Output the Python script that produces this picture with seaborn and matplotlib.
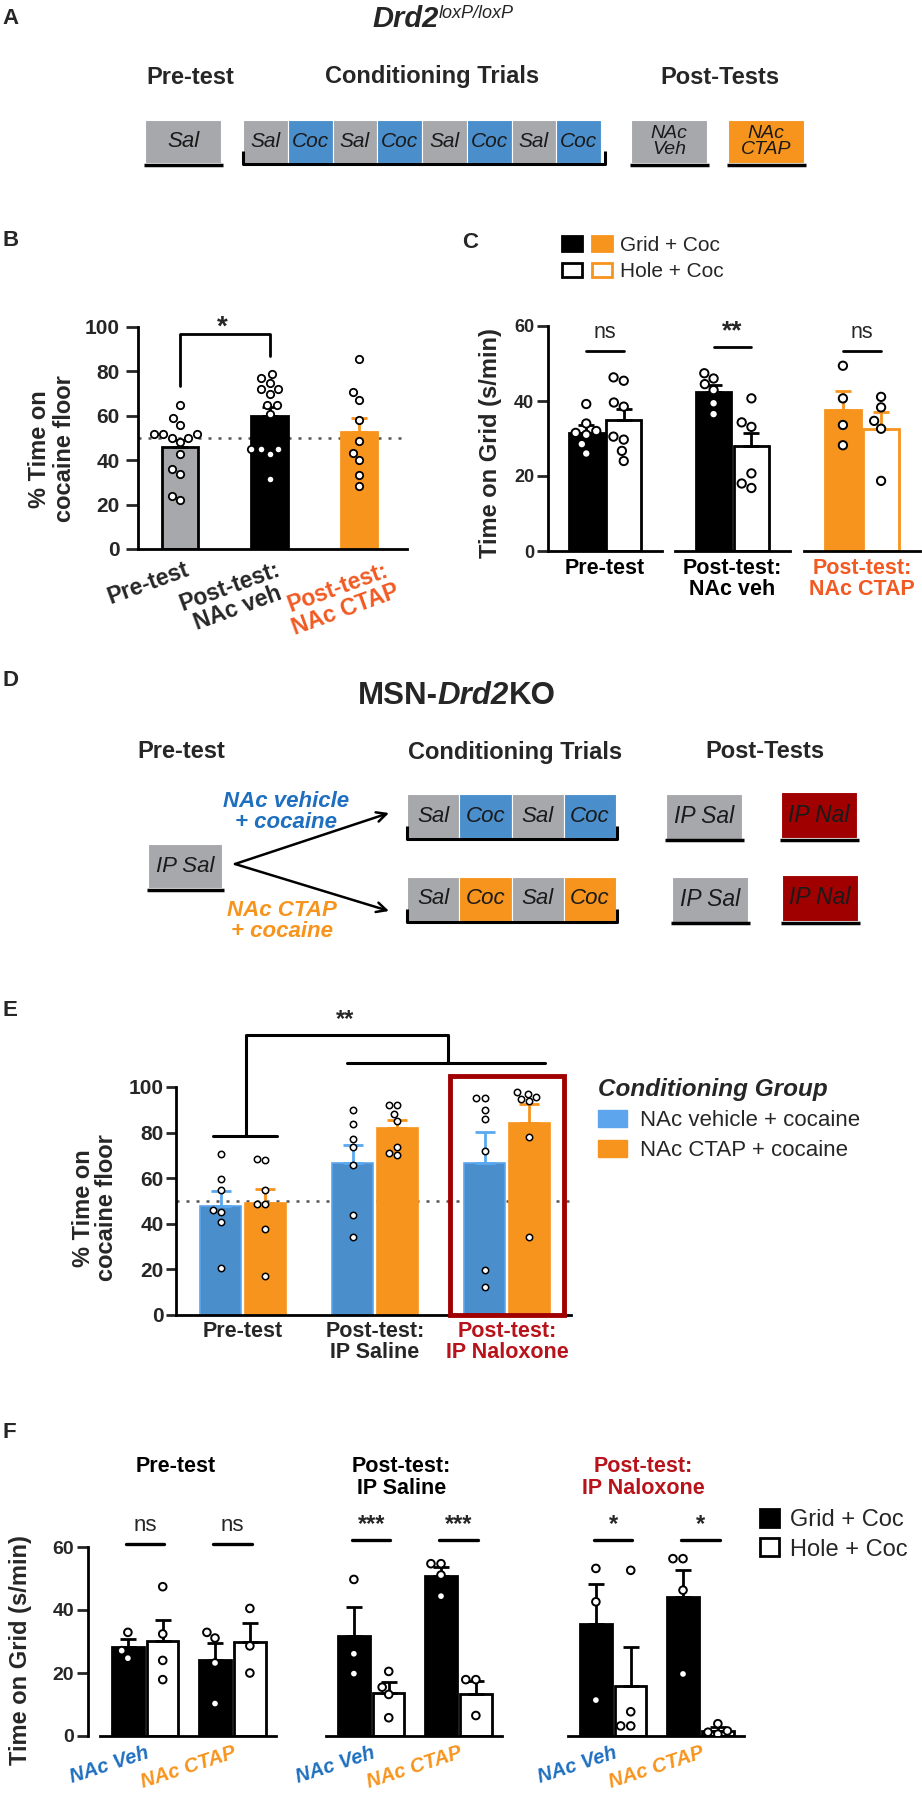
import numpy as np
import pandas as pd
import matplotlib
matplotlib.use('Agg')
import matplotlib.pyplot as plt
import matplotlib.transforms as mtransforms
import seaborn as sns
from matplotlib.patches import Rectangle, Patch
from matplotlib.legend_handler import HandlerTuple
from matplotlib.offsetbox import TextArea, HPacker, AnnotationBbox
from matplotlib.font_manager import FontProperties
from matplotlib import font_manager as fm

# ------------------------------------------------------------------ data
# Panel A schematic
A_pre = ['Sal']
A_cond = ['Sal', 'Coc', 'Sal', 'Coc', 'Sal', 'Coc', 'Sal', 'Coc']
A_post = ['NAc\nVeh', 'NAc\nCTAP']
A_headers = ['Pre-test', 'Conditioning Trials', 'Post-Tests']

# Panel B
B_conds = ['Pre-test', 'Post-test:\nNAc veh', 'Post-test:\nNAc CTAP']
B_means = [45.8, 60.0, 52.6]
B_sem = [3.5, 3.9, 6.5]
B_dots_pre = [65, 59, 56, 52, 52, 52, 50, 50, 48, 43, 36, 34, 24, 22]
B_dots_veh = [79, 77, 75, 72, 72, 70, 65, 65, 61, 45, 45, 43, 45, 31.5]
B_dots_ctap = [85.4, 70.6, 67.3, 58.2, 48.7, 43.1, 40.0, 33.3, 28.4]
B_chance = 50

# Panel C
FLOORS = ['Grid + Coc', 'Hole + Coc']
C_groups = ['Pre-test', 'Post-test:\nNAc veh', 'Post-test:\nNAc CTAP']
C_grid_mean = [31.5, 42.3, 37.6]
C_grid_sem = [2.1, 2.1, 5.0]
C_hole_mean = [34.9, 28.0, 32.6]
C_hole_sem = [3.1, 3.6, 4.4]
C_grid_dots = [[39.2, 34.0, 32.0, 31.5, 31.0, 28.5, 26.0],
               [47.4, 46.0, 44.5, 42.9, 39.4, 36.5],
               [49.4, 40.7, 33.6, 28.2]]
C_hole_dots = [[46.3, 45.4, 39.6, 38.5, 30.5, 29.7, 26.7, 24.0],
               [40.7, 34.3, 33.1, 20.7, 18.0, 16.8],
               [41.1, 38.3, 34.7, 32.6, 18.7]]
C_sig = ['ns', '**', 'ns']

# Panel D schematic
D_pre = ['IP Sal']
D_cond = ['Sal', 'Coc', 'Sal', 'Coc']
D_post = ['IP Sal', 'IP Nal']
D_arms = ['NAc vehicle\n+ cocaine', 'NAc CTAP\n+ cocaine']

# Panel E
E_groups = ['Pre-test', 'Post-test:\nIP Saline', 'Post-test:\nIP Naloxone']
E_cond = ['NAc vehicle + cocaine', 'NAc CTAP + cocaine']
E_veh_mean = [48.0, 66.8, 66.8]
E_veh_sem = [6.3, 7.9, 13.3]
E_ctap_mean = [49.3, 82.1, 84.3]
E_ctap_sem = [6.0, 3.3, 8.4]
E_veh_dots = [[70.4, 59.7, 54.9, 46.1, 45.1, 41.0, 20.8],
              [90.0, 83.9, 77.2, 73.5, 66.0, 43.9, 34.0],
              [95.0, 95.0, 90.0, 85.9, 72.0, 19.8, 12.2]]
E_ctap_dots = [[68.5, 67.8, 54.9, 48.8, 48.8, 37.9, 17.1],
               [92.1, 92.1, 88.1, 84.9, 73.9, 71.0, 70.3],
               [97.7, 97.1, 95.6, 94.7, 93.7, 78.0, 34.0]]
E_chance = 50

# Panel F
F_phases = ['Pre-test', 'Post-test:\nIP Saline', 'Post-test:\nIP Naloxone']
F_groups = ['NAc Veh', 'NAc CTAP']
F_grid_mean = [[28.1, 24.1], [31.6, 50.8], [35.6, 44.2]]
F_grid_sem = [[2.6, 5.4], [9.5, 2.7], [12.6, 8.4]]
F_hole_mean = [[30.2, 29.8], [13.7, 13.4], [16.0, 1.6]]
F_hole_sem = [[6.6, 6.0], [3.4, 4.0], [12.4, 1.3]]
F_grid_dots = [[[32.9, 27.1, 24.7], [32.9, 31.1, 23.2, 10.3]],
               [[49.7, 26.1, 19.8], [54.7, 54.7, 51.1, 44.4]],
               [[53.2, 42.6, 11.4], [56.3, 56.3, 46.3, 19.7]]]
F_hole_dots = [[[47.4, 32.4, 24.0, 17.9], [40.5, 28.6, 20.0]],
               [[20.5, 15.5, 13.2, 5.8], [17.9, 17.9, 6.5]],
               [[52.6, 7.7, 3.2, 3.2], [3.9, 1.6, 1.2, 0.6]]]
F_sig = [['ns', 'ns'], ['***', '***'], ['*', '*']]

# ------------------------------------------------------------------ style
sns.set_style('ticks')
names = {f.name for f in fm.fontManager.ttflist}
ARIAL = 'Liberation Sans' if 'Liberation Sans' in names else 'DejaVu Sans'
NARROW = 'Liberation Sans Narrow' if 'Liberation Sans Narrow' in names else ARIAL
plt.rcParams['font.family'] = [ARIAL, 'DejaVu Sans']
plt.rcParams['axes.linewidth'] = 2
plt.rcParams['xtick.major.width'] = 2
plt.rcParams['ytick.major.width'] = 2
plt.rcParams['axes.edgecolor'] = 'black'

GRAY = '#A6A8AB'
BLUE = '#4A8FCC'
BLUE_L = '#5DA5EC'
BLUE_ERR = '#5AA9F0'
ORANGE = '#F7941D'
RED_ORANGE = '#F15A22'
DARKRED = '#A00000'
NAL_RED = '#B8131A'
TXT_BLUE = '#1E6FBF'

W, H = 922, 1800
fig = plt.figure(figsize=(W / 100, H / 100), dpi=100)
ov = fig.add_axes([0, 0, 1, 1])
ov.set_xlim(0, W)
ov.set_ylim(H, 0)
ov.set_axis_off()


def px_axes(l, t, r, b):
    ax = fig.add_axes([l / W, 1 - b / H, (r - l) / W, (b - t) / H])
    ax.patch.set_alpha(0)
    return ax


def shift_labels(labels, dxs, dy=0):
    for lbl, dx in zip(labels, dxs):
        lbl.set_transform(lbl.get_transform() +
                          mtransforms.ScaledTranslation(dx / 100, dy / 100, fig.dpi_scale_trans))


def box(x, y, w, h, label, color, fs=15, ls=1.0):
    ov.add_patch(Rectangle((x, y), w, h, facecolor=color, edgecolor='white', lw=0.8))
    ov.text(x + w / 2, y + h / 2, label, ha='center', va='center', style='italic',
            family=NARROW, fontsize=fs, linespacing=ls, color='#1a1a1a')


def underline(x0, x1, y):
    ov.plot([x0, x1], [y, y], color='black', lw=2.5, solid_capstyle='butt')


def bracket(x0, x1, y, tick=13):
    ov.plot([x0, x0, x1, x1], [y - tick, y, y, y - tick], color='black', lw=2.2,
            solid_capstyle='butt')


def rich_title(parts, xy, align='baseline'):
    areas = [TextArea(s, textprops=p) for s, p in parts]
    pack = HPacker(children=areas, pad=0, sep=0, align=align)
    ov.add_artist(AnnotationBbox(pack, xy, xycoords='data', frameon=False,
                                 box_alignment=(0.5, 0.5)))


BOX_COL = {'Sal': GRAY, 'Coc': BLUE, 'NAc\nVeh': GRAY, 'NAc\nCTAP': ORANGE,
           'IP Sal': GRAY, 'IP Nal': DARKRED}

# panel letters
for letter, x, y in [('A', 2, 18), ('B', 2, 241), ('C', 462, 242),
                     ('D', 2, 681), ('E', 2, 1010), ('F', 2, 1433)]:
    ov.text(x, y, letter, ha='left', va='center', fontsize=16, fontweight='bold', family=NARROW)

# ------------------------------------------------------------------ Panel A
rich_title([('Drd2', dict(family=NARROW, fontsize=21, fontweight='bold', style='italic')),
            ('loxP/loxP', dict(family=NARROW, fontsize=13, style='italic'))], (443, 19), align='top')
for hdr, x in zip(A_headers, [190, 432, 720]):
    ov.text(x, 77, hdr, ha='center', va='center', family=NARROW, fontsize=17, fontweight='bold')
yA, hA = 120, 43
box(145, yA, 76, hA, A_pre[0], BOX_COL[A_pre[0]], fs=16)
underline(144, 223, yA + hA + 1.5)
cw = (601 - 243) / len(A_cond)
for k, lab in enumerate(A_cond):
    box(243 + k * cw, yA, cw, hA, lab, BOX_COL[lab], fs=15)
bracket(243, 605, yA + hA + 1)
for lab, x in zip(A_post, [631, 728]):
    box(x, yA, 76, hA, lab, BOX_COL[lab], fs=14, ls=0.85)
    underline(x - 1, x + 78, yA + hA + 1.5)

# ------------------------------------------------------------------ Panel B
axB = px_axes(138, 327, 407, 549)
dfB = pd.DataFrame({'cond': B_conds, 'mean': B_means})
sns.barplot(data=dfB, x='cond', y='mean', hue='cond', order=B_conds, hue_order=B_conds,
            palette=[GRAY, 'black', ORANGE], saturation=1, width=0.41, errorbar=None,
            legend=False, ax=axB)
for p, ec in zip(axB.patches, ['black', 'black', ORANGE]):
    p.set_edgecolor(ec)
    p.set_linewidth(2)
B_dots = [B_dots_pre, B_dots_veh, B_dots_ctap]
dfBd = pd.DataFrame({'cond': np.repeat(B_conds, [len(d) for d in B_dots]),
                     'val': np.concatenate(B_dots)})
sns.swarmplot(data=dfBd, x='cond', y='val', order=B_conds, color='white', edgecolor='black',
              linewidth=1.3, size=5.3, ax=axB, zorder=4)
for i, (m, s, c) in enumerate(zip(B_means, B_sem, ['black', 'black', ORANGE])):
    axB.errorbar(i, m, yerr=[[0], [s]], fmt='none', ecolor=c, elinewidth=2, capsize=6,
                 capthick=2, zorder=3)
axB.axhline(B_chance, ls=(0, (1.2, 2.8)), color='#555555', lw=1.8, zorder=0.5)
axB.plot([0, 0, 1, 1], [73.6, 96.7, 96.7, 87.0], color='black', lw=2, clip_on=False)
axB.text(0.47, 99.5, '*', ha='center', va='center', fontsize=20, fontweight='bold')
axB.set_xlim(-0.469, 2.536)
axB.set_ylim(0, 100)
axB.set_yticks(range(0, 101, 20))
axB.set_xlabel('')
axB.set_ylabel('')
sns.despine(ax=axB)
axB.tick_params(axis='y', length=9, width=2, pad=4, labelsize=15)
axB.tick_params(axis='x', length=0, pad=6.5)
for lbl in axB.get_yticklabels():
    lbl.set_fontweight('bold')
axB.set_xticks(range(3))
axB.set_xticklabels(B_conds, rotation=20, ha='right', rotation_mode='anchor',
                    fontsize=16.5, fontweight='bold', linespacing=1.0, multialignment='center')
xl = axB.get_xticklabels()
xl[2].set_color(RED_ORANGE)
shift_labels(xl, [4, 6, 28])
ov.text(52, 449, '% Time on\ncocaine floor', rotation=90, ha='center', va='center',
        fontsize=17, fontweight='bold', linespacing=1.15)

# ------------------------------------------------------------------ Panel C
C_xspans = [(548, 662), (675, 790), (804, 920)]
C_cols = ['black', 'black', ORANGE]
C_lblcols = ['black', 'black', RED_ORANGE]
C_off = [-0.2, 0.2]
for i, (l, r) in enumerate(C_xspans):
    ax = px_axes(l, 326, r, 551)
    col = C_cols[i]
    dfb = pd.DataFrame({'grp': [C_groups[i]] * 2, 'floor': FLOORS,
                        'mean': [C_grid_mean[i], C_hole_mean[i]]})
    sns.barplot(data=dfb, x='grp', y='mean', hue='floor', hue_order=FLOORS,
                palette={FLOORS[0]: col, FLOORS[1]: 'white'}, saturation=1, dodge=True,
                width=0.8, gap=0.07, errorbar=None, legend=False, ax=ax)
    for p in ax.patches:
        p.set_edgecolor(col)
        p.set_linewidth(2)
    dots = [C_grid_dots[i], C_hole_dots[i]]
    dfd = pd.DataFrame({'grp': C_groups[i],
                        'floor': np.repeat(FLOORS, [len(d) for d in dots]),
                        'val': np.concatenate(dots)})
    sns.swarmplot(data=dfd, x='grp', y='val', hue='floor', hue_order=FLOORS, dodge=True,
                  palette={FLOORS[0]: 'white', FLOORS[1]: 'white'}, edgecolor='black',
                  linewidth=1.4, size=6, legend=False, ax=ax, zorder=4)
    for k, (m, s) in enumerate([(C_grid_mean[i], C_grid_sem[i]), (C_hole_mean[i], C_hole_sem[i])]):
        ax.errorbar(C_off[k], m, yerr=[[0], [s]], fmt='none', ecolor=col, elinewidth=2,
                    capsize=5.5, capthick=2, zorder=3)
    sig_y = 53.4 if C_sig[i] == 'ns' else 54.3
    ax.plot([C_off[0], C_off[1]], [sig_y, sig_y], color='black', lw=2, clip_on=False)
    if C_sig[i] == 'ns':
        ax.text(0, sig_y + 2.0, 'ns', ha='center', va='bottom', fontsize=15.5)
    else:
        ax.text(0, sig_y + 1.0, '**', ha='center', va='bottom', fontsize=19, fontweight='bold')
    ax.set_xlim(-0.608, 0.608)
    ax.set_ylim(0, 60)
    ax.set_xlabel('')
    ax.set_ylabel('')
    ax.set_xticks([0])
    ax.set_xticklabels([C_groups[i]], fontsize=15.5, fontweight='bold', color=C_lblcols[i],
                       linespacing=1.0)
    ax.tick_params(axis='x', length=0, pad=5)
    ax.spines['top'].set_visible(False)
    ax.spines['right'].set_visible(False)
    if i == 0:
        ax.set_yticks(range(0, 61, 20))
        ax.tick_params(axis='y', length=8, width=2, pad=2, labelsize=13)
        for lbl in ax.get_yticklabels():
            lbl.set_fontweight('bold')
    else:
        ax.spines['left'].set_visible(False)
        ax.set_yticks([])
ov.text(490, 443, 'Time on Grid (s/min)', rotation=90, ha='center', va='center',
        fontsize=17, fontweight='bold')
hC1 = (Patch(fc='black', ec='black', lw=2), Patch(fc=ORANGE, ec=ORANGE, lw=2))
hC2 = (Patch(fc='white', ec='black', lw=2), Patch(fc='white', ec=ORANGE, lw=2))
fig.legend([hC1, hC2], FLOORS, handler_map={tuple: HandlerTuple(ndivide=None, pad=0.5)},
           loc='upper left', bbox_to_anchor=(562 / W, 1 - 236 / H), frameon=False,
           prop=FontProperties(family=ARIAL, size=15), handlelength=2.4, handleheight=0.7,
           handletextpad=0.4, labelspacing=0.35, borderaxespad=0, borderpad=0)

# ------------------------------------------------------------------ Panel D
rich_title([('MSN-', dict(family=NARROW, fontsize=22.5, fontweight='bold')),
            ('Drd2', dict(family=NARROW, fontsize=22.5, fontweight='bold', style='italic')),
            ('KO', dict(family=NARROW, fontsize=22.5, fontweight='bold'))], (457, 696))
for hdr, x in zip(A_headers, [181, 515, 765]):
    ov.text(x, 752, hdr, ha='center', va='center', family=NARROW, fontsize=17, fontweight='bold')
box(148, 844, 74, 44, D_pre[0], BOX_COL[D_pre[0]], fs=16)
underline(147, 224, 890)
row_y = [794, 877]
coc_cols = [BLUE, ORANGE]
dw = (616 - 407) / len(D_cond)
for r, y in enumerate(row_y):
    for k, lab in enumerate(D_cond):
        colr = GRAY if lab == 'Sal' else coc_cols[r]
        box(407 + k * dw, y, dw, 44, lab, colr, fs=16)
    bracket(407, 617, y + 45)
post_x = [[666, 781], [672, 782]]
for r, y in enumerate(row_y):
    for lab, x in zip(D_post, post_x[r]):
        yy = y - 2 if lab == 'IP Nal' else y
        box(x, yy, 76, 45 + (1 if lab == 'IP Nal' else 0), lab, BOX_COL[lab], fs=16.5)
        underline(x - 1, x + 78, y + 46)
for yend in [813, 911]:
    ov.annotate('', xy=(389, yend), xytext=(235, 864),
                arrowprops=dict(arrowstyle='->,head_length=0.7,head_width=0.35', color='black',
                                lw=1.8, shrinkA=0, shrinkB=0))
for lab, (x, y), c in zip(D_arms, [(286, 812), (282, 921)], [TXT_BLUE, ORANGE]):
    ov.text(x, y, lab, ha='center', va='center', family=NARROW, fontsize=16,
            fontweight='bold', style='italic', color=c, linespacing=1.0)

# ------------------------------------------------------------------ Panel E
axE = px_axes(176, 1087, 571, 1315)
E_OFF = 0.17
E_means = [E_veh_mean, E_ctap_mean]
E_sems = [E_veh_sem, E_ctap_sem]
E_dots = [E_veh_dots, E_ctap_dots]
rows, drows = [], []
for gi in range(len(E_groups)):
    for k, cg in enumerate(E_cond):
        pos = round(gi + (2 * k - 1) * E_OFF, 3)
        rows.append({'pos': pos, 'cg': cg, 'mean': E_means[k][gi]})
        for v in E_dots[k][gi]:
            drows.append({'pos': pos, 'val': v})
dfE = pd.DataFrame(rows)
dfEd = pd.DataFrame(drows)
sns.barplot(data=dfE, x='pos', y='mean', hue='cg', hue_order=E_cond, palette=[BLUE, ORANGE],
            saturation=1, native_scale=True, dodge=False, width=0.91, errorbar=None,
            legend=False, ax=axE)
for p in axE.patches:
    fc = p.get_facecolor()
    p.set_edgecolor(BLUE_L if fc[2] > 0.5 else ORANGE)
    p.set_linewidth(1.2)
sns.swarmplot(data=dfEd, x='pos', y='val', native_scale=True, color='white', edgecolor='black',
              linewidth=1.1, size=4.6, ax=axE, zorder=4)
for _, row in dfE.iterrows():
    k = E_cond.index(row['cg'])
    gi = int(round(row['pos']))
    axE.errorbar(row['pos'], row['mean'], yerr=[[0], [E_sems[k][gi]]], fmt='none',
                 ecolor=[BLUE_ERR, ORANGE][k], elinewidth=2, capsize=7, capthick=2, zorder=3)
axE.axhline(E_chance, ls=(0, (1.2, 2.8)), color='#555555', lw=1.8, zorder=0.5)
# significance brackets
axE.plot([-0.23, 0.26], [78.5, 78.5], color='black', lw=2.2, clip_on=False)
axE.plot([0.02, 0.02, 1.553, 1.553], [78.5, 123, 123, 110.5], color='black', lw=2.2, clip_on=False)
axE.plot([0.79, 2.29], [110.5, 110.5], color='black', lw=2.2, clip_on=False)
axE.text(0.77, 124.5, '**', ha='center', va='bottom', fontsize=17, fontweight='bold')
axE.add_patch(Rectangle((2 - 0.432, 0), 0.864, 104.8, fill=False, ec=DARKRED, lw=3.5,
                        clip_on=False, zorder=6))
axE.set_xlim(-0.508, 2.485)
axE.set_ylim(0, 100)
axE.set_xlabel('')
axE.set_ylabel('')
sns.despine(ax=axE)
axE.set_yticks(range(0, 101, 20))
axE.tick_params(axis='y', length=7, width=2, pad=2)
for lbl in axE.get_yticklabels():
    lbl.set_fontweight('bold')
    lbl.set_family(NARROW)
    lbl.set_fontsize(15)
axE.set_xticks(range(3))
axE.set_xticklabels(E_groups, fontsize=15.5, fontweight='bold', family=NARROW, linespacing=1.05)
axE.get_xticklabels()[2].set_color(NAL_RED)
axE.tick_params(axis='x', length=0, pad=4)
ov.text(95, 1208, '% Time on\ncocaine floor', rotation=90, ha='center', va='center',
        fontsize=17, fontweight='bold', linespacing=1.05)
axE.legend(handles=[Patch(fc=BLUE_L, ec=BLUE_L), Patch(fc=ORANGE, ec=ORANGE)], labels=E_cond,
           title='Conditioning Group', loc='upper left',
           bbox_to_anchor=(598 / W, 1 - 1078 / H), bbox_transform=fig.transFigure,
           frameon=False, alignment='left',
           title_fontproperties=FontProperties(family=NARROW, size=17.5, weight='bold', style='italic'),
           prop=FontProperties(family=NARROW, size=16), handlelength=1.3, handleheight=0.8,
           handletextpad=0.6, labelspacing=0.4, borderaxespad=0, borderpad=0)

# ------------------------------------------------------------------ Panel F
F_xspans = [(100, 276), (326, 502), (568, 744)]
F_top, F_bot = 1547, 1736
F_sig_y = [61.1, 62.3, 62.3]
F_title_cols = ['black', 'black', NAL_RED]
for i, (l, r) in enumerate(F_xspans):
    ax = px_axes(l, F_top, r, F_bot)
    rows, drows = [], []
    for gi, g in enumerate(F_groups):
        for k, fl in enumerate(FLOORS):
            m = [F_grid_mean, F_hole_mean][k][i][gi]
            rows.append({'grp': g, 'floor': fl, 'mean': m})
            for v in [F_grid_dots, F_hole_dots][k][i][gi]:
                drows.append({'grp': g, 'floor': fl, 'val': v})
    dfb = pd.DataFrame(rows)
    dfd = pd.DataFrame(drows)
    sns.barplot(data=dfb, x='grp', y='mean', hue='floor', order=F_groups, hue_order=FLOORS,
                palette={FLOORS[0]: 'black', FLOORS[1]: 'white'}, saturation=1, dodge=True,
                width=0.8, gap=0.1, errorbar=None, legend=False, ax=ax)
    for p in ax.patches:
        p.set_edgecolor('black')
        p.set_linewidth(2)
    sns.swarmplot(data=dfd, x='grp', y='val', hue='floor', order=F_groups, hue_order=FLOORS,
                  dodge=True, palette={FLOORS[0]: 'white', FLOORS[1]: 'white'},
                  edgecolor='black', linewidth=1.4, size=5.5, legend=False, ax=ax, zorder=4)
    for gi in range(len(F_groups)):
        for k in range(2):
            m = [F_grid_mean, F_hole_mean][k][i][gi]
            s = [F_grid_sem, F_hole_sem][k][i][gi]
            ax.errorbar(gi + C_off[k], m, yerr=[[0], [s]], fmt='none', ecolor='black',
                        elinewidth=2, capsize=6, capthick=2, zorder=3)
        ax.plot([gi - 0.22, gi + 0.22], [F_sig_y[i]] * 2, color='black', lw=2.4, clip_on=False)
        sig = F_sig[i][gi]
        if sig == 'ns':
            ax.text(gi, F_sig_y[i] + 2.3, sig, ha='center', va='bottom', fontsize=16,
                    family=NARROW)
        else:
            ax.text(gi, F_sig_y[i] + 1.2, sig, ha='center', va='bottom', fontsize=17,
                    fontweight='bold')
    ax.text(0.43, 1 + (F_top - 1456) / (F_bot - F_top), F_phases[i], transform=ax.transAxes,
            ha='center', va='top', family=NARROW, fontsize=15.5, fontweight='bold',
            color=F_title_cols[i], linespacing=1.05)
    ax.set_xlim(-0.52, 1.50)
    ax.set_ylim(0, 60)
    ax.set_xlabel('')
    ax.set_ylabel('')
    ax.spines['top'].set_visible(False)
    ax.spines['right'].set_visible(False)
    ax.set_xticks(range(len(F_groups)))
    ax.set_xticklabels(F_groups, rotation=18, ha='right', rotation_mode='anchor',
                       fontsize=14.5, fontweight='bold', style='italic')
    fl = ax.get_xticklabels()
    fl[0].set_color(TXT_BLUE)
    fl[1].set_color(ORANGE)
    shift_labels(fl, [24, 24])
    ax.tick_params(axis='x', length=0, pad=5.5)
    if i == 0:
        ax.spines['left'].set_position(('outward', 8.6))
        ax.set_yticks(range(0, 61, 20))
        ax.tick_params(axis='y', length=8, width=2, pad=2)
        for lbl in ax.get_yticklabels():
            lbl.set_fontweight('bold')
            lbl.set_family(NARROW)
            lbl.set_fontsize(14)
    else:
        ax.spines['left'].set_visible(False)
        ax.set_yticks([])
ov.text(21, 1650, 'Time on Grid (s/min)', rotation=90, ha='center', va='center',
        fontsize=17, fontweight='bold')
fig.legend(handles=[Patch(fc='black', ec='black', lw=2), Patch(fc='white', ec='black', lw=2)],
           labels=FLOORS, loc='upper left', bbox_to_anchor=(760 / W, 1 - 1509 / H),
           frameon=False, prop=FontProperties(family=NARROW, size=17), handlelength=0.8,
           handleheight=0.8, handletextpad=0.45, labelspacing=0.3, borderaxespad=0, borderpad=0)

fig.savefig('out.png', dpi=100)
